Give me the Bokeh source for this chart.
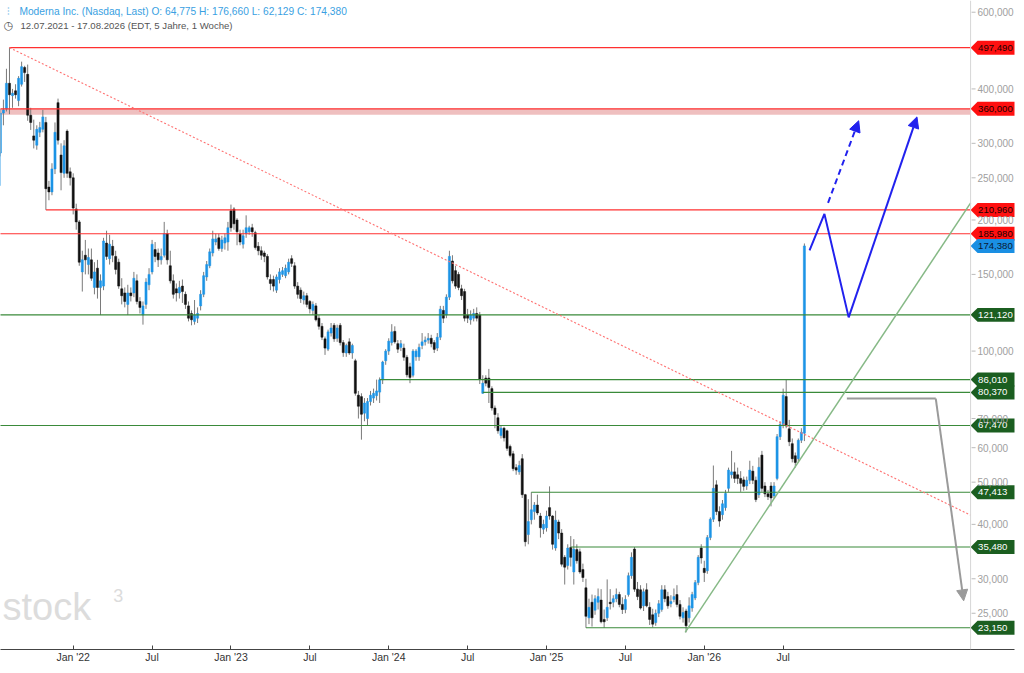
import math
import numpy as np
import pandas as pd
from bokeh.plotting import figure
from bokeh.models import Range1d, FixedTicker, Label, Arrow, NormalHead, ColumnDataSource, Span
from bokeh.core.properties import value
from bokeh.embed import file_html
from bokeh.resources import INLINE

# ---------------- data ----------------
start_date = "2021-07-12"
end_date = "2026-08-17"
weeks = pd.date_range(start_date, end_date, freq="7D")
week_pos = list(range(len(weeks)))

opens = [
    240, 285, 352, 360, 412, 386, 396, 376, 410, 448,
    432, 348, 312, 297, 318, 323, 335, 238, 232, 262,
    372, 282, 256, 320, 258, 250, 212, 198, 152, 166,
    158, 162, 140, 155, 140, 141, 177, 163, 174, 165,
    160, 139, 136, 128, 136, 136, 145, 130, 121, 128,
    142, 152, 171, 168, 162, 166, 186, 157, 145, 139,
    136, 141, 135, 127, 122, 117, 119, 127, 135, 148,
    157, 168, 178, 182, 172, 177, 178, 210, 212, 200,
    186, 176, 186, 188, 192, 187, 174, 170, 168, 165,
    146, 146, 138, 146, 150, 149, 152, 163, 157, 141,
    138, 131, 134, 130, 124, 127, 119, 114, 106.7, 101,
    110, 114.6, 107, 114.6, 104.6, 99, 105, 99, 95, 79.2,
    78.6, 72, 70, 76.6, 78, 79, 80.5, 85.9, 95, 100,
    104.6, 111, 104, 102, 101.6, 96.8, 92, 88, 97, 97,
    103, 105, 106, 107, 104.6, 101.6, 107.6, 124, 121, 133,
    161, 153, 150, 139, 137, 121, 118, 119, 122, 121,
    80, 86.7, 86.7, 82, 74, 70.3, 64, 66.5, 65.6, 60.4,
    58.1, 54, 52.8, 56.6, 46.8, 37.9, 41, 42.8, 44.3, 41.8,
    39, 39.3, 43.7, 41.8, 35.3, 40.5, 38.2, 33.6, 32.2, 35.4,
    31.1, 35, 34.6, 31.5, 28.6, 24.4, 26.5, 25.4, 26.5, 26.8,
    24.2, 24.4, 26.5, 26.5, 27, 27.6, 26.2, 25.5, 27.6, 30.5,
    35.1, 28.4, 28.3, 26, 28.3, 25.8, 24.8, 23.8, 25, 25.5,
    28.3, 27.3, 26.3, 26.9, 27.6, 26.2, 24.4, 25.3, 24.4, 25.7,
    27.1, 29.4, 35.3, 31.7, 31.3, 37.3, 41.1, 49.3, 42.8, 42.1,
    43.7, 48.4, 52, 52.8, 52, 51, 50.6, 49, 50.5, 53,
    50.5, 46.8, 57.7, 49, 47, 49, 46.5, 51, 63.6, 67.8,
    78.6, 66.3, 61.3, 57.5, 56.6, 62.4, 64.775,
]
highs = [
    300, 360, 378, 445, 497.49, 400, 410, 428, 462, 452,
    455, 362, 340, 330, 336, 358, 345, 246, 270, 335,
    380, 300, 305, 323, 264, 256, 218, 200, 170, 180,
    172, 172, 160, 162, 150, 182, 189, 185, 180, 170,
    163, 147, 140, 142, 140, 152, 150, 133, 130, 147,
    155, 180, 178, 172, 172, 198, 190, 170, 150, 143,
    145, 146, 137, 130, 124, 131, 126, 138, 152, 161,
    172, 189, 186, 186, 184, 186, 198, 217, 214, 202,
    190, 190, 205, 194, 196, 189, 178, 174, 170, 167,
    150, 149, 150, 155, 156, 158, 163, 166, 160, 144,
    140, 137, 136, 131, 130, 129, 121, 116, 108, 112,
    116, 116, 115, 116, 106, 104, 107, 104, 96, 81,
    80, 78, 78, 81, 82, 86, 87, 95, 101, 107,
    115.3, 114, 106, 106, 104, 98, 94, 101, 101, 104,
    110, 108, 110, 109, 106, 110, 127, 127, 135, 170,
    166, 157, 152, 142, 139, 125, 124, 125, 126, 123,
    88, 88, 91, 83, 75, 72, 67.5, 67, 66, 61,
    59, 55, 56, 58, 47, 45.7, 47.413, 45, 46.8, 42.5,
    41, 43, 48.9, 42, 43, 41, 39, 34, 36, 37.6,
    37, 36, 35.2, 32.5, 30, 27, 27.6, 27.5, 28.5, 28.4,
    25.5, 29.9, 28.4, 27.5, 28.5, 28, 27.2, 27.5, 31, 34.5,
    35.48, 29.5, 29, 28.5, 29.3, 26.5, 25.6, 25.5, 26.8, 29,
    29, 28, 27.5, 28.5, 29, 26.8, 25.8, 25.6, 27.2, 28,
    29.8, 34, 36, 33, 37.8, 41.5, 54.6, 50.5, 44, 45.5,
    48, 54, 59, 55.5, 54, 53, 51.5, 51.5, 56, 54.5,
    51.5, 57, 59, 50, 48, 50, 50, 64.5, 69, 82,
    86.01, 69.5, 63, 58.5, 63, 66.5, 176.66,
]
lows = [
    230, 280, 330, 355, 350, 362, 380, 365, 405, 415,
    338, 322, 292, 290, 310, 318, 211, 222, 228, 255,
    298, 234, 250, 250, 240, 206, 190, 157, 137, 150,
    150, 145, 135, 132, 121, 138, 162, 158, 160, 150,
    139, 128, 126, 121, 130, 133, 128, 122, 115, 125,
    138, 150, 160, 156, 158, 164, 158, 143, 132, 130,
    132, 129, 125, 117, 114.6, 115, 116, 124, 133, 145,
    155, 165, 175, 170, 169, 171, 170, 188, 190, 175,
    175, 172, 182, 185, 183, 171, 166, 162, 160, 146,
    138, 137, 136, 143, 148, 147, 150, 156, 139, 132,
    129, 128, 126, 122, 121, 117, 112, 106, 98, 100,
    108, 105, 105, 103, 97, 97, 98, 96, 79, 70,
    62.6, 69, 67.3, 75, 76, 77, 76, 84, 93, 98,
    103, 104, 99, 100, 95, 87, 84.4, 87, 95, 95,
    101, 103, 104, 102, 99, 100, 106, 116, 119, 131,
    143, 139, 138, 131, 117, 116, 115, 117, 117, 84,
    79.8, 83, 76, 73, 66.5, 64.6, 63, 62, 59, 57,
    53, 52, 52, 46, 35.6, 36, 40, 41, 42, 37.3,
    38, 38.5, 41, 35, 34.8, 37, 32, 29.1, 31.5, 32,
    29.1, 32.5, 30.8, 29.5, 23.15, 23.6, 23.3, 24.8, 25.5, 23.7,
    23.15, 24, 25.5, 25.8, 26.5, 25.8, 24.9, 25, 27.3, 30,
    28, 26.8, 25.5, 25.3, 25.8, 23.5, 23.2, 23.4, 24.5, 25.2,
    26.5, 25.6, 25.8, 26.5, 25.8, 24.2, 23.8, 22.6, 23.8, 25.2,
    26.8, 29, 32.5, 29.5, 30.8, 36.8, 40.5, 42, 39.5, 41,
    43, 47.5, 51, 49.8, 49.5, 47.5, 47.8, 48, 49.5, 49.5,
    45, 46, 47.5, 46.2, 45.5, 44, 45.8, 50.5, 62.5, 66.5,
    66.5, 60.5, 55.5, 54, 55.5, 61.5, 62.129,
]
closes = [
    285, 352, 358, 412, 388, 391, 388, 423, 450, 436,
    348, 335, 305, 323, 326, 345, 236, 232, 262, 318,
    305, 257, 296, 256, 250, 213, 198, 160, 162, 162,
    164, 147, 152, 140, 145, 179, 165, 176, 166, 154,
    141, 134, 130, 136, 134, 147, 130, 126, 127, 144,
    150, 176, 165, 162, 165, 186, 162, 145, 135, 136,
    140, 137, 128, 119, 118, 121, 122, 135, 149, 158,
    169, 181, 181, 172, 180, 182, 192, 192, 196, 188,
    178, 184, 192, 192, 188, 173, 170, 166, 165, 148,
    143, 141, 148, 152, 153, 155, 160, 159, 141, 135,
    132, 134, 128, 125, 128, 118, 114, 107.6, 101.6, 110.7,
    113, 106.7, 113, 104.6, 99.2, 103, 99, 103, 80, 74.7,
    71.6, 76, 76.6, 79.2, 80, 81, 85.9, 94.4, 100, 105.4,
    110.7, 105, 101, 104, 96.8, 88.2, 87, 100, 100, 102,
    105, 106, 107, 104, 100.9, 107.6, 124.8, 119, 133, 165,
    145, 141, 140, 134, 119, 119, 121, 122, 119, 86,
    84.4, 84.4, 82.5, 74, 71.5, 65.6, 66.5, 63.2, 59.8, 57.6,
    53.7, 53.3, 54.6, 46.8, 36.5, 40.6, 43.2, 44.3, 42.5, 39.3,
    40, 41.8, 41.8, 36, 40.9, 38.2, 32.4, 31.9, 35.3, 33.6,
    35.1, 33, 31.1, 30.2, 24.6, 25.8, 24.4, 27.0, 27.3, 23.9,
    23.9, 25.8, 26.3, 27.0, 27.6, 26.2, 25.5, 26.9, 30.5, 33.6,
    28.4, 27.3, 25.7, 28, 26, 24.2, 23.6, 25, 26.3, 28.3,
    27, 26, 26.6, 27.3, 26.2, 24.6, 25.1, 23.4, 26, 27.6,
    29.4, 33.6, 33.5, 31, 37.3, 41.1, 48.4, 42.8, 40.7, 44.6,
    47.1, 53.3, 52.8, 51, 51, 49.7, 48.9, 50.5, 53.3, 50.5,
    45.6, 54.1, 48.4, 47, 46.3, 46, 49, 63.6, 67.8, 79.2,
    67.3, 61.9, 56.6, 55.5, 62.4, 65.1, 174.38,
]

# horizontal levels drawn on the chart
level_values = [497.49, 360.0, 210.96, 185.98, 121.12, 86.01, 80.37, 67.47, 47.413, 35.48, 23.15]
level_start_week = [4, 0, 16, 0, 0, 126, 160, 0, 176, 189, 194]
level_is_resistance = [True, True, True, True, False, False, False, False, False, False, False]
zone_top, zone_bottom = 360.0, 349.0
last_close = closes[-1]

# trend lines (week position, price)
down_trend_weeks, down_trend_prices = [4, 320.8], [497.49, 42.0]
up_trend_weeks, up_trend_prices = [226.7, 320.8], [22.6, 219.0]

# scenario arrows (week position, price)
bull_weeks, bull_prices = [267.7, 272.6, 280.6, 303.1], [170.4, 206.6, 119.5, 345.0]
bull_alt_weeks, bull_alt_prices = [273.8, 283.9], [219.0, 338.0]
bear_weeks, bear_prices = [280.0, 309.3, 318.5], [77.8, 77.8, 26.7]

# axis ticks
x_tick_weeks = [25, 51, 77, 103, 129, 155, 181, 207, 233, 259]
x_tick_labels = ["Jan '22", "Jul", "Jan '23", "Jul", "Jan '24", "Jul", "Jan '25", "Jul", "Jan '26", "Jul"]
y_ticks = [20, 25, 30, 40, 50, 60, 70, 100, 150, 200, 250, 300, 400, 600]


def de(v):
    return f"{v:.3f}".replace(".", ",")


# ---------------- figure ----------------
FRAME_W, FRAME_H = 1016, 652
X0, X1 = 1.04, 335.25          # week positions at the left / right frame edge
Y0, Y1 = 20.64, 638.4          # prices at the bottom / top frame edge
FONT = "Liberation Sans"

p = figure(width=1016, height=665, x_range=Range1d(X0, X1), y_range=Range1d(Y0, Y1),
           y_axis_type="log", y_axis_location="right", output_backend="svg",
           toolbar_location=None, min_border_left=0, min_border_top=0,
           min_border_right=0, min_border_bottom=13)
p.outline_line_color = None
p.xgrid.visible = False
p.ygrid.visible = False
p.background_fill_color = "white"


def wx(px):
    return X0 + px / FRAME_W * (X1 - X0)


def wy(py):
    return math.exp(math.log(Y1) - py / FRAME_H * (math.log(Y1) - math.log(Y0)))


AXIS_X = wx(972)     # price scale line position

# x axis
p.xaxis.ticker = FixedTicker(ticks=x_tick_weeks)
p.xaxis.major_label_overrides = dict(zip(x_tick_weeks, x_tick_labels))
p.xaxis.major_tick_in = 4
p.xaxis.major_tick_out = 0
p.xaxis.minor_tick_line_color = None
p.xaxis.axis_line_color = "#444444"
p.xaxis.major_tick_line_color = "#444444"
p.xaxis.major_label_text_color = "#333333"
p.xaxis.major_label_text_font_size = "10.5px"
p.xaxis.major_label_text_font = FONT
p.xaxis.major_label_standoff = 1

# y axis: labels pulled back into the price-scale strip at the right of the frame
p.yaxis.ticker = FixedTicker(ticks=y_ticks, minor_ticks=[])
p.yaxis.major_label_overrides = {t: de(t) for t in y_ticks}
p.yaxis.major_tick_in = 0
p.yaxis.major_tick_out = 0
p.yaxis.major_tick_line_color = None
p.yaxis.minor_tick_line_color = None
p.yaxis.axis_line_color = None
p.yaxis.major_label_text_color = "#a0a0a0"
p.yaxis.major_label_text_font_size = "10px"
p.yaxis.major_label_text_font = FONT
p.yaxis.major_label_standoff = -37

# price scale line and tick dashes
p.add_layout(Span(location=AXIS_X, dimension="height", line_color="#d6d6d6", line_width=1))
p.segment(x0=[wx(973)] * len(y_ticks), y0=y_ticks, x1=[wx(977)] * len(y_ticks), y1=y_ticks,
          line_color="#bbbbbb", line_width=1)

# resistance zone
p.quad(left=[-5], right=[AXIS_X], bottom=[zone_bottom], top=[zone_top],
       fill_color="#e9a9a9", fill_alpha=0.75, line_color=None)

# candles
up = [c >= o for o, c in zip(opens, closes)]
src = ColumnDataSource(dict(
    x=week_pos, o=opens, h=highs, l=lows, c=closes,
    top=[max(o, c) for o, c in zip(opens, closes)],
    bottom=[min(o, c) for o, c in zip(opens, closes)],
    color=["#1c94e6" if u else "#111111" for u in up],
))
p.segment(x0="x", y0="l", x1="x", y1="h", line_color="#7a7a7a", line_width=1, source=src)
p.vbar(x="x", width=0.7, top="top", bottom="bottom", fill_color="color",
       line_color="color", line_width=0.5, source=src)

# level lines
RED, GREEN = "#ff3030", "#3a8a3a"
for v, s, res in zip(level_values, level_start_week, level_is_resistance):
    p.segment(x0=[s], y0=[v], x1=[AXIS_X], y1=[v], line_color=RED if res else GREEN, line_width=1.1)

# trend lines
p.line(down_trend_weeks, down_trend_prices, line_color="#ff7070", line_width=1.1, line_dash="2 2")
p.line(up_trend_weeks, up_trend_prices, line_color="#86b986", line_width=1.5)

# scenario arrows
BLUE = "#2121ee"
p.line(bull_weeks[:3], bull_prices[:3], line_color=BLUE, line_width=2)
p.add_layout(Arrow(end=NormalHead(size=11, fill_color=BLUE, line_color=BLUE),
                   x_start=bull_weeks[2], y_start=bull_prices[2],
                   x_end=bull_weeks[3], y_end=bull_prices[3],
                   line_color=BLUE, line_width=2))
p.add_layout(Arrow(end=NormalHead(size=11, fill_color=BLUE, line_color=BLUE),
                   x_start=bull_alt_weeks[0], y_start=bull_alt_prices[0],
                   x_end=bull_alt_weeks[1], y_end=bull_alt_prices[1],
                   line_color=BLUE, line_width=2, line_dash="6 4"))
GREY = "#9a9a9a"
p.line(bear_weeks[:2], bear_prices[:2], line_color=GREY, line_width=2)
p.add_layout(Arrow(end=NormalHead(size=11, fill_color=GREY, line_color=GREY),
                   x_start=bear_weeks[1], y_start=bear_prices[1],
                   x_end=bear_weeks[2], y_end=bear_prices[2],
                   line_color=GREY, line_width=2))

# price tags on the price scale
tags = []
for v, res in zip(level_values, level_is_resistance):
    tags.append((v, "#ff1010" if res else "#1b5e20", "#1a0000" if res else "#ffffff"))
tags.append((last_close, "#1a8fe3", "#0a1a33"))
half = 7.0 / 190.0
tx0, tx1, tx2 = wx(972), wx(979), wx(1030)
tag_xs = [[tx0, tx1, tx2, tx2, tx1] for _ in tags]
tag_ys = [[v, v * math.exp(half), v * math.exp(half), v * math.exp(-half), v * math.exp(-half)]
          for v, _, _ in tags]
p.patches(xs=tag_xs, ys=tag_ys, fill_color=[t[1] for t in tags], line_color=None)
p.text(x=[wx(979.5)] * len(tags), y=[t[0] for t in tags], text=[de(t[0]) for t in tags],
       text_color=[t[2] for t in tags], text_font=value(FONT), text_font_size=value("9.6px"),
       text_baseline="middle", text_align="left")

# header
hdr = (f"Moderna Inc. (Nasdaq, Last)  O: {de(opens[-1])}  H: {de(highs[-1])}  "
       f"L: {de(lows[-1])}  C: {de(closes[-1])}")
p.add_layout(Label(x=wx(19), y=wy(11), text=hdr, text_font=FONT, text_font_size="10.2px",
                   text_color="#3a9fe2", text_baseline="middle", text_align="left"))
p.add_layout(Label(x=wx(8), y=wy(11), text="\u2af6", text_font="DejaVu Sans", text_font_size="10px",
                   text_color="#3a9fe2", text_baseline="middle", text_align="center"))
rng = f"{weeks[0]:%d.%m.%Y} - {weeks[-1]:%d.%m.%Y}   (EDT, 5 Jahre, 1 Woche)"
p.add_layout(Label(x=wx(20), y=wy(25), text=rng, text_font=FONT, text_font_size="9.6px",
                   text_color="#555555", text_baseline="middle", text_align="left"))
p.add_layout(Label(x=wx(8), y=wy(25), text="\u25f7", text_font="DejaVu Sans", text_font_size="11px",
                   text_color="#555555", text_baseline="middle", text_align="center"))

# watermark
p.add_layout(Label(x=wx(2), y=wy(609), text="stock", text_font=FONT, text_font_size="38px",
                   text_color="#dcdcdc", text_baseline="middle", text_align="left"))
p.add_layout(Label(x=wx(113), y=wy(598), text="3", text_font=FONT, text_font_size="18px",
                   text_color="#dcdcdc", text_baseline="middle", text_align="left"))

open("out.html", "w").write(file_html(p, INLINE))
